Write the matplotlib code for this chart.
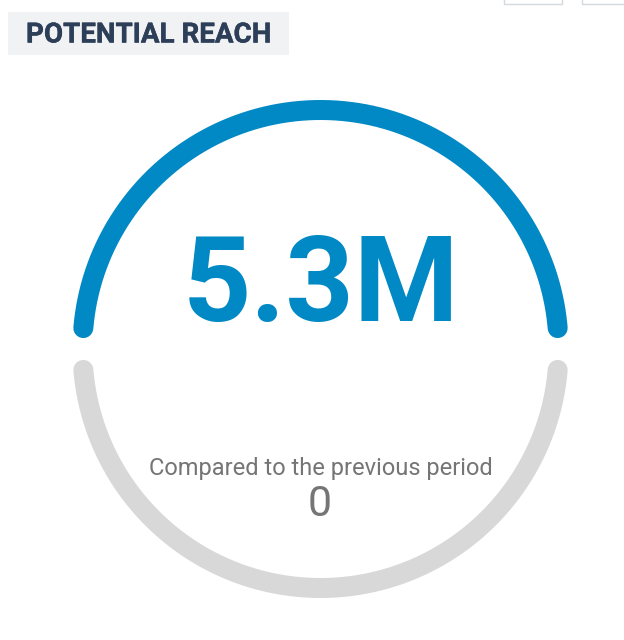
import matplotlib
matplotlib.use("Agg")
import matplotlib.pyplot as plt
import matplotlib.patheffects as pe
from matplotlib.patches import Rectangle
import numpy as np

title = "POTENTIAL REACH"
value_label = "5.3M"
caption = "Compared to the previous period"
delta_label = "0"
arc_colors = ["#0089c4", "#d8d8d8"]

W, H = 624, 640
fig = plt.figure(figsize=(W/100, H/100), dpi=100, facecolor="white")
ax = fig.add_axes([0, 0, 1, 1])
ax.set_xlim(0, W); ax.set_ylim(H, 0); ax.axis("off")
plt.rcParams['font.family'] = ['Roboto', 'DejaVu Sans']

ax.add_patch(Rectangle((8, 12), 281, 43, fc="#f1f2f4", ec="none"))
t = ax.text(26, 35, title, fontsize=20, fontweight="bold", color="#2d3f58", va="center", ha="left", family="Roboto")
t.set_path_effects([pe.withStroke(linewidth=0.3, foreground="#2d3f58")])

r = 238
lw = 20 * 72 / 100
a = np.radians(np.linspace(175.2, 4.8, 200))
ax.plot(320.5 + r*np.cos(a), 348 - r*np.sin(a), color=arc_colors[0], lw=lw, solid_capstyle="round")
ax.plot(320.5 + r*np.cos(a), 350 + r*np.sin(a), color=arc_colors[1], lw=lw, solid_capstyle="round")

v = ax.text(321, 289, value_label, fontsize=86, fontweight="bold", color=arc_colors[0], ha="center", va="center", family="Roboto")
ax.text(321, 468, caption, fontsize=17, color="#757575", ha="center", va="center", family="Roboto")
ax.text(320, 505, delta_label, fontsize=31, color="#757575", ha="center", va="center", family="Roboto")
for x in (504, 582):
    ax.add_patch(Rectangle((x, -5), 58, 9, fc="white", ec="#d5d8dc", lw=1))
fig.savefig("out.png", dpi=100)
